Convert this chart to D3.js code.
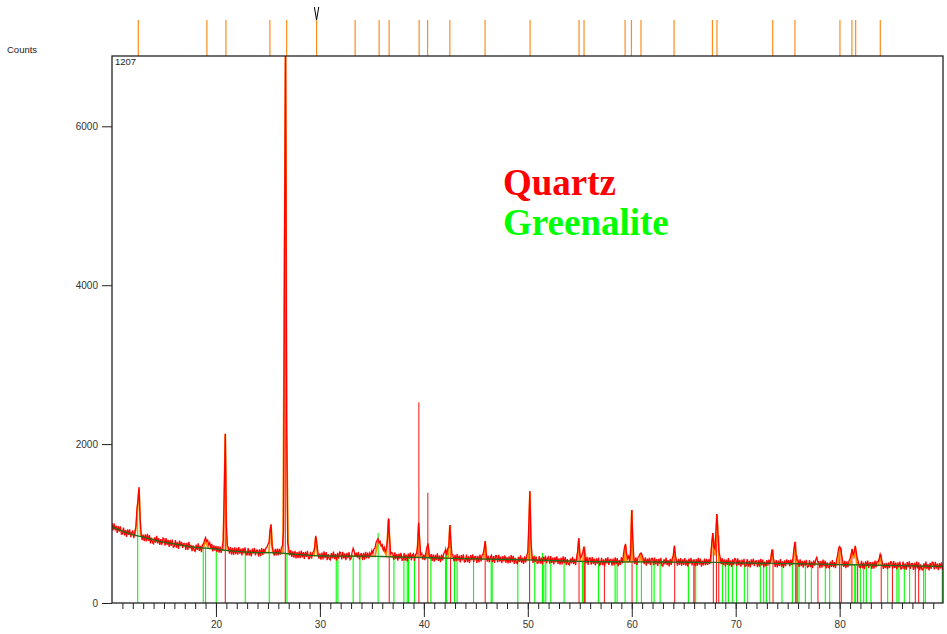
<!DOCTYPE html>
<html><head><meta charset="utf-8">
<script src="https://cdn.jsdelivr.net/npm/d3@7"></script>
<style>body{margin:0;background:#fff}svg{display:block}</style>
</head><body>
<svg id="chart" width="947" height="634"></svg>
<script>
// ---- data ----
const startAngle = 10, stepAngle = 0.1;
const observedCounts = [
1005,915,1004,914,973,883,967,897,966,866,
870,950,851,921,832,927,858,928,829,889,
905,815,900,960,1180,1290,1460,1080,880,790,
860,777,863,775,871,783,854,751,822,759,
745,827,760,846,751,815,731,803,733,818,
810,723,818,732,795,707,795,720,797,702,
710,793,695,768,680,785,717,768,694,747,
750,668,756,669,771,688,731,652,724,662,
650,734,669,752,656,720,640,735,745,790,
824,775,790,730,760,690,745,650,725,660,
720,640,715,635,710,630,700,780,1390,2130,
980,720,700,620,705,610,695,605,700,615,
695,610,705,620,685,600,690,625,700,605,
605,690,595,670,585,685,620,695,600,665,
665,585,675,590,690,605,680,640,690,700,
740,760,920,990,720,660,595,680,600,685,
600,680,610,700,720,900,4600,6950,2300,760,
690,600,665,580,650,570,655,560,640,565,
650,565,660,575,640,555,645,580,655,560,
560,645,560,630,650,700,845,760,650,560,
625,545,635,550,650,565,640,540,615,555,
542,627,562,647,552,617,537,632,557,642,
635,550,645,560,625,540,630,565,640,545,
560,640,690,650,580,635,570,645,550,615,
620,540,630,545,645,560,635,560,630,600,
660,620,680,690,760,790,810,760,775,720,
735,670,700,640,690,800,1067,820,620,635,
627,542,637,552,617,532,622,557,632,537,
543,628,533,608,523,623,558,633,538,603,
620,530,615,620,720,1010,780,610,625,545,
610,540,640,700,750,610,560,615,530,610,
520,605,540,625,530,595,515,610,535,620,
640,680,600,690,700,980,770,620,600,525,
607,522,617,532,597,512,602,537,612,517,
523,608,513,588,503,603,538,613,518,583,
585,505,595,510,610,525,600,620,680,780,
620,520,595,510,580,600,515,590,505,595,
595,510,605,520,585,500,590,525,600,505,
578,498,588,503,603,518,593,493,568,508,
496,581,516,601,506,571,491,586,511,596,
640,1000,1410,780,610,505,590,515,585,500,
505,590,495,570,485,585,520,595,500,565,
581,496,591,506,571,486,576,511,586,491,
562,482,572,487,587,502,577,477,552,492,
480,560,500,580,490,555,475,580,650,815,
620,570,600,650,710,590,500,580,480,565,
567,482,577,492,557,472,562,497,572,477,
485,570,475,550,465,565,500,575,480,545,
549,469,559,474,574,489,564,464,539,479,
575,500,610,700,745,620,560,590,520,650,
1170,800,580,490,575,480,570,590,620,630,
600,560,490,575,470,560,495,570,475,560,
562,477,572,487,552,467,557,492,567,472,
466,551,486,571,476,541,461,556,481,566,
590,720,590,540,470,555,480,565,470,550,
479,564,469,544,459,559,494,569,474,539,
543,463,553,468,568,483,558,458,533,473,
560,475,555,480,550,490,600,760,880,700,
680,900,1120,850,640,580,490,565,475,550,
460,545,480,565,470,535,455,550,475,560,
551,466,561,476,541,456,546,481,556,461,
469,554,459,534,449,549,484,559,464,529,
532,452,542,457,557,472,547,447,522,462,
540,470,545,490,580,675,580,520,455,540,
448,533,468,553,458,523,443,538,463,548,
490,540,460,545,480,560,680,770,610,540,
539,454,549,464,529,444,534,469,544,449,
460,540,450,520,440,535,470,545,575,515,
520,440,530,445,545,460,535,435,510,450,
440,520,455,540,450,515,440,540,600,690,
710,690,600,520,455,530,440,525,450,530,
560,610,680,600,640,720,640,560,520,450,
445,530,435,510,425,525,460,535,440,505,
508,428,518,433,533,448,523,520,550,615,
575,515,430,500,440,505,425,510,440,520,
517,432,527,442,507,422,512,447,522,427,
435,520,425,500,415,515,450,525,430,495,
497,417,507,422,522,437,512,412,487,427,
415,500,435,520,425,490,410,505,430,515,
507,422,517,432,497,412,502,437,512,417,
470];

const bgAngles = [10,11,12,13,14,15,16,17,18,19,20,21,22,23,24,25,26,27,28,29,30,32,34,36,38,40,42,44,46,48,50,52,54,56,58,60,62,64,66,68,70,72,74,76,78,80,82,84,86,88,90];
const bgCounts = [960,905,860,830,795,765,745,720,700,690,678,662,650,640,635,635,630,620,608,600,595,590,590,585,578,573,566,558,552,548,544,536,528,522,519,518,517,515,513,511,506,502,498,494,490,484,480,475,470,465,460];

const fitAngles = [10,12.2,12.35,12.5,12.6,12.75,13,15,18,18.8,19.0,19.25,20,20.7,20.8,20.9,21.0,21.1,23,25.1,25.3,25.45,26.45,26.6,26.7,26.8,26.95,29.45,29.6,29.78,33,35.3,35.6,36.0,36.4,36.6,36.8,39.35,39.5,39.65,40.25,40.4,40.55,42.35,42.5,42.65,45.75,45.9,46.05,50.05,50.2,50.35,54.75,54.9,55.05,55.3,55.45,55.6,59.25,59.4,59.55,59.85,60.0,60.15,60.75,60.9,61.05,63.95,64.1,64.25,67.6,67.8,68.0,68.2,68.4,73.35,73.5,73.65,75.55,75.7,75.85,79.85,80.0,80.1,80.25,81.05,81.2,81.35,81.5,81.65,83.75,83.9,84.05,90];
const fitCounts = [960,852,1000,1300,1440,860,830,765,700,694,790,690,678,665,1380,2120,900,662,640,635,980,635,625,4500,6900,2200,620,598,830,597,590,588,780,700,600,1050,585,575,1000,575,573,745,572,567,970,566,553,770,552,544,1400,543,528,800,527,526,700,525,518,730,518,518,1160,518,518,620,518,515,710,515,512,870,600,1110,511,505,665,505,500,760,500,485,700,680,484,482,670,560,710,481,474,605,474,460];

const greenaliteAngles = [12.47,18.78,19.0,20.03,22.82,25.13,26.83,31.57,31.73,33.2,33.85,35.6,37.12,38.08,38.4,38.53,39.1,40.67,42.08,42.18,42.95,43.2,44.78,46.48,46.57,49.04,50.67,51.41,51.54,51.73,52.21,53.49,55.26,55.38,55.55,56.8,58.4,58.59,59.36,60.48,60.93,61.92,62.15,62.73,65.45,65.96,66.15,68.72,69.04,69.3,69.68,70.07,70.83,71.15,72.37,72.69,72.95,73.27,74.45,75.45,75.9,76.09,76.7,77.28,78.62,79.04,81.41,81.54,81.99,82.31,82.57,83.01,84.62,85.51,85.7,86.22,86.73,88.08,88.24,89.87];
const greenaliteCounts = [1297,690,711,700,630,665,628,560,560,600,580,880,575,565,560,560,575,565,711,650,560,560,550,540,540,545,600,630,560,560,540,535,540,540,530,520,520,520,600,560,600,530,530,540,520,510,510,520,520,515,515,510,505,505,500,500,500,500,500,495,495,495,495,490,488,488,482,482,480,480,480,478,475,472,472,470,470,465,465,460];

const quartzAngles = [20.9,26.67,36.67,39.52,40.38,42.57,45.9,50.17,54.93,55.45,57.37,60.03,64.13,66.0,67.85,68.15,68.37,73.59,75.77,75.9,77.91,80.0,80.16,81.18,81.73,84.0,85.08,87.28,87.6];
const quartzCounts = [2130,6900,1050,2527,1389,980,780,1401,815,710,520,1170,720,510,880,1120,850,675,770,600,520,711,690,680,520,610,480,470,470];

const peakListAngles = [12.53,19.13,20.96,25.19,26.80,29.68,33.39,35.70,36.66,39.55,40.36,42.5,45.89,50.22,54.93,55.41,59.36,59.97,60.89,64.07,67.76,68.20,73.56,75.70,80.03,81.18,81.54,83.91];
const markedPeak = 29.68;

const yTicks = [0,2000,4000,6000];
const xMinorTicks = d3.range(11, 90, 1);
const xMajorTicks = [20,30,40,50,60,70,80];
const legendNames = ["Quartz","Greenalite"];
const legendColors = ["#ff0000","#00ff00"];

// ---- layout ----
const L = 112, R = 943, T = 56, B = 603;
const svg = d3.select("#chart");
const x = d3.scaleLinear().domain([10, 90]).range([L, 943.6]);
const y = d3.scaleLinear().domain([0, 6885]).range([B, T]);

svg.append("defs").append("clipPath").attr("id","clip")
  .append("rect").attr("x", L).attr("y", T).attr("width", R - L).attr("height", B - T);

const plot = svg.append("g").attr("clip-path","url(#clip)");

// reference sticks
plot.append("g").selectAll("line").data(greenaliteAngles).join("line")
  .attr("x1", d => x(d)).attr("x2", d => x(d))
  .attr("y1", y(0)).attr("y2", (d,i) => y(greenaliteCounts[i]))
  .attr("stroke", "#00ff00").attr("stroke-width", 1.1);
plot.append("g").selectAll("line").data(quartzAngles).join("line")
  .attr("x1", d => x(d)).attr("x2", d => x(d))
  .attr("y1", y(0)).attr("y2", (d,i) => y(quartzCounts[i]))
  .attr("stroke", "#ff2020").attr("stroke-width", 1.1);

// calculated profile (under the observed pattern)
plot.append("path").datum(fitAngles.map((a,i)=>[a, fitCounts[i]]))
  .attr("fill","none").attr("stroke","#ff8c00").attr("stroke-width",1.8)
  .attr("d", d3.line().x(d => x(d[0])).y(d => y(d[1])));

// observed pattern
const obs = observedCounts.map((c,i) => [startAngle + i*stepAngle, c]);
plot.append("path").datum(obs)
  .attr("fill","none").attr("stroke","#ff0000").attr("stroke-width",1.3)
  .attr("stroke-linejoin","miter")
  .attr("d", d3.line().x(d => x(d[0])).y(d => y(d[1])));

// background
plot.append("path").datum(bgAngles.map((a,i)=>[a, bgCounts[i]]))
  .attr("fill","none").attr("stroke","#1d6e1d").attr("stroke-width",1.3)
  .attr("d", d3.line().curve(d3.curveMonotoneX).x(d => x(d[0])).y(d => y(d[1])));

// peak list markers above the plot
svg.append("g").selectAll("line").data(peakListAngles).join("line")
  .attr("x1", d => x(d)).attr("x2", d => x(d))
  .attr("y1", 20).attr("y2", T)
  .attr("stroke", "#ff8c1a").attr("stroke-width", 1.2);
svg.append("path")
  .attr("d", `M${x(markedPeak)-2.2},7 L${x(markedPeak)},20 L${x(markedPeak)+2.2},7`)
  .attr("fill","none").attr("stroke","#000").attr("stroke-width",1);

// axes
const font = "Liberation Sans, Arial, sans-serif";
const yAxis = svg.append("g").attr("transform",`translate(${L},0)`)
  .call(d3.axisLeft(y).tickValues(yTicks).tickSize(10).tickPadding(4).tickFormat(d3.format("d")));
const xMinor = svg.append("g").attr("transform",`translate(0,${B})`)
  .call(d3.axisBottom(x).tickValues(xMinorTicks).tickSize(6).tickFormat(""));
const xMajor = svg.append("g").attr("transform",`translate(0,${B})`)
  .call(d3.axisBottom(x).tickValues(xMajorTicks).tickSize(14).tickPadding(4).tickFormat(d3.format("d")));
[yAxis, xMinor, xMajor].forEach(g => {
  g.select(".domain").remove();
  g.selectAll("line").attr("stroke","#222");
  g.selectAll("text").attr("font-family", font).attr("font-size", 10).attr("fill","#333");
});

// frame
svg.append("rect").attr("x", L).attr("y", T).attr("width", R - L).attr("height", B - T)
  .attr("fill","none").attr("stroke","#222").attr("stroke-width",1.3);

svg.append("text").attr("x", 7).attr("y", 53).text("Counts")
  .attr("font-family", font).attr("font-size", 9.5).attr("fill","#222");
svg.append("text").attr("x", 115).attr("y", 65).text("1207")
  .attr("font-family", font).attr("font-size", 9.5).attr("fill","#222");

// legend
svg.append("g").selectAll("text").data(legendNames).join("text")
  .attr("x", 503).attr("y", (d,i) => 195 + i*40)
  .attr("font-family","Liberation Serif, Times New Roman, serif")
  .attr("font-weight","bold").attr("font-size", 37)
  .attr("fill", (d,i) => legendColors[i])
  .text(d => d);
</script>
</body></html>
